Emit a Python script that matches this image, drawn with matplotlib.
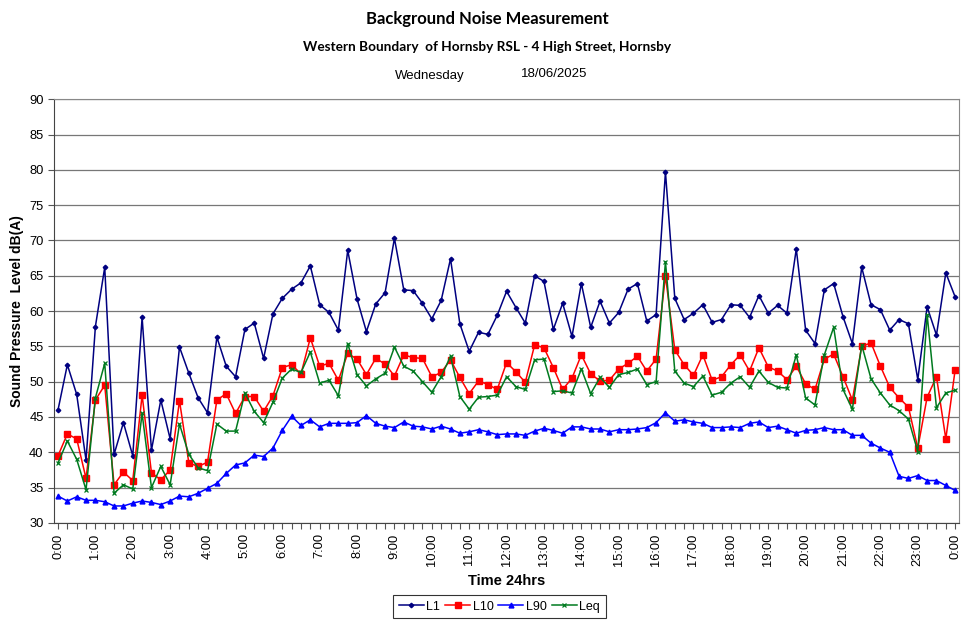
import matplotlib
matplotlib.use("Agg")
import matplotlib.pyplot as plt
import numpy as np

# 15-minute readings, 0:00 -> 0:00 next day (97 points)
L1 = [46.0, 52.4, 48.2, 38.9, 57.8, 66.2, 39.7, 44.2, 39.5, 59.1, 40.3, 47.4, 41.9,
      54.9, 51.2, 47.7, 45.6, 56.3, 52.2, 50.7, 57.4, 58.3, 53.3, 59.6, 61.8, 63.1,
      64.0, 66.4, 60.9, 59.8, 57.3, 68.6, 61.7, 57.1, 61.0, 62.6, 70.3, 63.0, 62.9,
      61.1, 58.9, 61.5, 67.4, 58.2, 54.3, 57.0, 56.7, 59.4, 62.8, 60.5, 58.3, 65.0,
      64.2, 57.4, 61.1, 56.4, 63.9, 57.7, 61.4, 58.3, 59.8, 63.1, 63.9, 58.6, 59.5,
      79.7, 61.8, 58.8, 59.7, 60.9, 58.4, 58.8, 60.9, 60.8, 59.1, 62.2, 59.7, 60.8,
      59.7, 68.8, 57.3, 55.4, 63.0, 63.9, 59.2, 55.4, 66.2, 60.9, 60.2, 57.3, 58.8,
      58.2, 50.3, 60.6, 56.6, 65.4, 62.0]
L10 = [39.5, 42.6, 41.9, 36.3, 47.4, 49.5, 35.4, 37.2, 36.0, 48.1, 37.1, 36.1, 37.5,
       47.3, 38.5, 38.0, 38.6, 47.4, 48.3, 45.5, 47.9, 47.9, 45.8, 48.0, 52.0, 52.4,
       51.1, 56.2, 52.2, 52.6, 50.2, 54.0, 53.2, 51.0, 53.3, 52.5, 50.8, 53.8, 53.4,
       53.3, 50.7, 51.3, 53.1, 50.6, 48.3, 50.1, 49.6, 48.9, 52.7, 51.4, 49.9, 55.2,
       54.8, 52.0, 48.9, 50.5, 53.8, 51.1, 50.1, 50.2, 51.8, 52.6, 53.6, 51.5, 53.2,
       65.0, 54.5, 52.4, 50.9, 53.8, 50.2, 50.7, 52.4, 53.8, 51.5, 54.8, 52.1, 51.5,
       50.3, 52.2, 49.7, 48.9, 53.2, 53.9, 50.7, 47.4, 55.0, 55.5, 52.2, 49.2, 47.7,
       46.4, 40.6, 47.8, 50.7, 41.9, 51.7]
L90 = [33.8, 33.1, 33.7, 33.2, 33.2, 33.0, 32.4, 32.4, 32.8, 33.1, 32.9, 32.6, 33.1,
       33.8, 33.7, 34.2, 34.9, 35.6, 37.0, 38.2, 38.5, 39.6, 39.4, 40.6, 43.1, 45.1,
       43.8, 44.6, 43.6, 44.1, 44.1, 44.1, 44.2, 45.2, 44.1, 43.7, 43.5, 44.3, 43.7,
       43.6, 43.3, 43.7, 43.3, 42.7, 42.9, 43.2, 42.9, 42.5, 42.6, 42.6, 42.4, 43.0,
       43.4, 43.1, 42.7, 43.6, 43.6, 43.3, 43.3, 42.9, 43.2, 43.2, 43.3, 43.5, 44.2,
       45.6, 44.4, 44.6, 44.3, 44.1, 43.5, 43.5, 43.6, 43.5, 44.1, 44.3, 43.5, 43.7,
       43.2, 42.7, 43.1, 43.2, 43.5, 43.2, 43.2, 42.4, 42.4, 41.3, 40.6, 40.0, 36.6,
       36.3, 36.7, 36.0, 36.0, 35.3, 34.6]
Leq = [38.5, 41.6, 39.0, 34.7, 47.7, 52.6, 34.2, 35.4, 34.8, 45.5, 35.0, 38.0, 35.4,
       44.0, 39.7, 37.8, 37.4, 44.0, 43.0, 43.0, 48.4, 45.8, 44.2, 47.1, 50.5, 51.8,
       51.3, 54.2, 49.8, 50.2, 48.0, 55.4, 51.0, 49.4, 50.4, 51.2, 54.9, 52.2, 51.5,
       50.0, 48.5, 50.7, 53.6, 47.9, 46.1, 47.8, 47.9, 48.1, 50.7, 49.3, 48.9, 53.1,
       53.2, 48.6, 48.7, 48.4, 51.8, 48.3, 50.6, 49.2, 51.0, 51.3, 51.8, 49.6, 50.0,
       67.0, 51.5, 49.8, 49.3, 50.8, 48.1, 48.5, 49.8, 50.7, 49.2, 51.5, 49.9, 49.2,
       49.1, 53.8, 47.7, 46.7, 53.8, 57.7, 48.9, 46.1, 55.2, 50.4, 48.4, 46.7, 45.9,
       44.7, 40.1, 59.5, 46.3, 48.4, 48.8]
hour_labels = ["%d:00" % (h % 24) for h in range(25)]

x = np.arange(len(L1))

fig = plt.figure(figsize=(9.64, 6.24), dpi=100)
ax = fig.add_axes([0.056, 0.162, 0.939, 0.679])

ax.plot(x, L1, color="#000080", lw=1.1, marker="D", ms=2.3, label="L1")
ax.plot(x, L10, color="#ff0000", lw=1.1, marker="s", ms=4, label="L10")
ax.plot(x, L90, color="#0000ff", lw=1.1, marker="^", ms=3.5, label="L90")
ax.plot(x, Leq, color="#007a1f", lw=1.1, marker="x", ms=3.5, mew=0.9, label="Leq")

ax.set_ylim(30, 90)
ax.set_yticks(np.arange(30, 91, 5))
ax.set_xlim(-0.43, 96.43)
ax.set_xticks(np.arange(0, 97, 4))
ax.set_xticklabels(hour_labels, rotation=90)
ax.set_xticks(x, minor=True)
ax.tick_params(axis="both", labelsize=9.3, length=4, width=0.8, color="#555555")
ax.tick_params(axis="x", which="minor", length=4, width=0.8, color="#555555")
for lab in ax.get_xticklabels() + ax.get_yticklabels():
    lab.set_fontfamily(["Liberation Sans", "DejaVu Sans"])

ax.yaxis.grid(True, color="#777777", lw=0.9)
ax.set_axisbelow(True)
for s in ["top", "right"]:
    ax.spines[s].set_color("#888888")
for s in ["left", "bottom"]:
    ax.spines[s].set_color("#444444")

ax.set_ylabel("Sound Pressure  Level dB(A)", fontsize=10, fontweight="bold",
              family=["Liberation Sans", "DejaVu Sans"], labelpad=4)
ax.set_xlabel("Time 24hrs", fontsize=10.5, fontweight="bold",
              family=["Liberation Sans", "DejaVu Sans"], labelpad=6)

fig.text(0.505, 0.970, "Background Noise Measurement", ha="center", va="center",
         fontsize=12, fontweight="bold", family=["Lato", "DejaVu Sans"])
fig.text(0.505, 0.924, "Western Boundary  of Hornsby RSL - 4 High Street, Hornsby",
         ha="center", va="center", fontsize=9.8, fontweight="bold", family=["Lato", "DejaVu Sans"])
fig.text(0.446, 0.879, "Wednesday", ha="center", va="center", fontsize=9.5,
         family=["Liberation Sans Narrow", "Liberation Sans", "DejaVu Sans"])
fig.text(0.575, 0.882, "18/06/2025", ha="center", va="center", fontsize=9.5,
         family=["Liberation Sans Narrow", "Liberation Sans", "DejaVu Sans"])

leg = fig.legend(loc="center", bbox_to_anchor=(0.518, 0.0275), ncol=4,
                 frameon=True, fancybox=False, edgecolor="black", handlelength=2.0,
                 columnspacing=0.4, handletextpad=0.2, borderpad=0.45,
                 prop={"family": ["Liberation Sans", "DejaVu Sans"], "size": 9})
leg.get_frame().set_linewidth(0.8)

fig.savefig("out.png", dpi=100)
